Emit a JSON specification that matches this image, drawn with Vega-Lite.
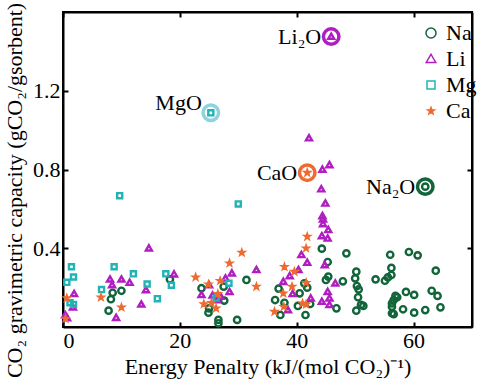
{
  "$schema": "https://vega.github.io/schema/vega-lite/v6.json",
  "width": 409,
  "height": 315,
  "autosize": {"type": "none"},
  "padding": {"left": 63, "top": 12, "right": 8, "bottom": 58},
  "background": "white",
  "config": {
    "font": "Liberation Serif",
    "view": {"stroke": "black", "strokeWidth": 2},
    "axis": {
      "grid": false,
      "domainColor": "black",
      "domainWidth": 2,
      "tickColor": "black",
      "tickWidth": 2,
      "tickSize": -5,
      "labelColor": "black",
      "labelFont": "Liberation Serif",
      "labelFontSize": 22,
      "titleFont": "Liberation Serif",
      "titleFontSize": 22,
      "titleFontWeight": "normal",
      "titleColor": "black"
    },
    "legend": {
      "labelFont": "Liberation Serif",
      "labelFontSize": 22,
      "labelColor": "black"
    }
  },
  "datasets": {
    "pts": [
      {"series": "Na", "x": 8.2, "y": 0.141}, {"series": "Na", "x": 7.8, "y": 0.083}, {"series": "Na", "x": 8.5, "y": 0.174}, {"series": "Na", "x": 10.0, "y": 0.184},
      {"series": "Na", "x": 18.3, "y": 0.242}, {"series": "Na", "x": 23.7, "y": 0.197}, {"series": "Na", "x": 25.0, "y": 0.095}, {"series": "Na", "x": 24.9, "y": 0.073},
      {"series": "Na", "x": 26.6, "y": 0.036}, {"series": "Na", "x": 26.6, "y": 0.019}, {"series": "Na", "x": 29.8, "y": 0.036}, {"series": "Na", "x": 31.4, "y": 0.239},
      {"series": "Na", "x": 27.5, "y": 0.205}, {"series": "Na", "x": 27.6, "y": 0.134},
      {"series": "Na", "x": 44.3, "y": 0.398}, {"series": "Na", "x": 48.5, "y": 0.374}, {"series": "Na", "x": 45.3, "y": 0.33}, {"series": "Na", "x": 45.4, "y": 0.256},
      {"series": "Na", "x": 45.0, "y": 0.239}, {"series": "Na", "x": 47.9, "y": 0.232}, {"series": "Na", "x": 41.3, "y": 0.222}, {"series": "Na", "x": 41.8, "y": 0.2},
      {"series": "Na", "x": 40.5, "y": 0.171}, {"series": "Na", "x": 40.2, "y": 0.107}, {"series": "Na", "x": 42.3, "y": 0.117}, {"series": "Na", "x": 41.5, "y": 0.061},
      {"series": "Na", "x": 37.2, "y": 0.061}, {"series": "Na", "x": 36.9, "y": 0.195}, {"series": "Na", "x": 36.3, "y": 0.137}, {"series": "Na", "x": 37.9, "y": 0.123},
      {"series": "Na", "x": 46.8, "y": 0.095},
      {"series": "Na", "x": 50.2, "y": 0.281}, {"series": "Na", "x": 50.0, "y": 0.247}, {"series": "Na", "x": 50.3, "y": 0.208}, {"series": "Na", "x": 50.6, "y": 0.191},
      {"series": "Na", "x": 50.5, "y": 0.151}, {"series": "Na", "x": 51.0, "y": 0.112}, {"series": "Na", "x": 51.4, "y": 0.107}, {"series": "Na", "x": 50.2, "y": 0.083},
      {"series": "Na", "x": 53.5, "y": 0.242}, {"series": "Na", "x": 55.1, "y": 0.235}, {"series": "Na", "x": 55.6, "y": 0.252}, {"series": "Na", "x": 56.2, "y": 0.264},
      {"series": "Na", "x": 56.2, "y": 0.3}, {"series": "Na", "x": 56.0, "y": 0.367}, {"series": "Na", "x": 59.2, "y": 0.381}, {"series": "Na", "x": 60.7, "y": 0.364},
      {"series": "Na", "x": 63.8, "y": 0.286}, {"series": "Na", "x": 56.9, "y": 0.158}, {"series": "Na", "x": 57.2, "y": 0.151}, {"series": "Na", "x": 56.6, "y": 0.137},
      {"series": "Na", "x": 56.3, "y": 0.12}, {"series": "Na", "x": 56.3, "y": 0.103}, {"series": "Na", "x": 56.3, "y": 0.07}, {"series": "Na", "x": 56.6, "y": 0.065},
      {"series": "Na", "x": 58.7, "y": 0.178}, {"series": "Na", "x": 60.1, "y": 0.163}, {"series": "Na", "x": 63.1, "y": 0.184}, {"series": "Na", "x": 64.1, "y": 0.158},
      {"series": "Na", "x": 64.6, "y": 0.1}, {"series": "Na", "x": 62.0, "y": 0.086}, {"series": "Na", "x": 60.1, "y": 0.073}, {"series": "Na", "x": 58.2, "y": 0.09},
      {"series": "Na", "x": 62.0, "y": 0.713},
      {"series": "Li", "x": 0.4, "y": 0.06}, {"series": "Li", "x": 0.7, "y": 0.045}, {"series": "Li", "x": 1.9, "y": 0.168}, {"series": "Li", "x": 1.7, "y": 0.1},
      {"series": "Li", "x": 8.05, "y": 0.242}, {"series": "Li", "x": 8.4, "y": 0.213}, {"series": "Li", "x": 9.1, "y": 0.047}, {"series": "Li", "x": 10.0, "y": 0.242},
      {"series": "Li", "x": 11.4, "y": 0.225}, {"series": "Li", "x": 13.4, "y": 0.115}, {"series": "Li", "x": 14.2, "y": 0.188}, {"series": "Li", "x": 14.7, "y": 0.4},
      {"series": "Li", "x": 19.0, "y": 0.268}, {"series": "Li", "x": 23.7, "y": 0.163}, {"series": "Li", "x": 25.0, "y": 0.213}, {"series": "Li", "x": 25.6, "y": 0.161},
      {"series": "Li", "x": 26.4, "y": 0.137}, {"series": "Li", "x": 27.0, "y": 0.154}, {"series": "Li", "x": 27.8, "y": 0.247}, {"series": "Li", "x": 28.5, "y": 0.178},
      {"series": "Li", "x": 28.9, "y": 0.273}, {"series": "Li", "x": 33.1, "y": 0.29},
      {"series": "Li", "x": 37.7, "y": 0.23}, {"series": "Li", "x": 38.8, "y": 0.259}, {"series": "Li", "x": 38.5, "y": 0.086}, {"series": "Li", "x": 39.3, "y": 0.168},
      {"series": "Li", "x": 40.3, "y": 0.29}, {"series": "Li", "x": 40.8, "y": 0.366}, {"series": "Li", "x": 41.8, "y": 0.327}, {"series": "Li", "x": 42.1, "y": 0.959},
      {"series": "Li", "x": 42.4, "y": 0.146}, {"series": "Li", "x": 44.4, "y": 0.8}, {"series": "Li", "x": 45.6, "y": 0.823}, {"series": "Li", "x": 44.2, "y": 0.7},
      {"series": "Li", "x": 44.9, "y": 0.628}, {"series": "Li", "x": 44.4, "y": 0.564}, {"series": "Li", "x": 44.5, "y": 0.547}, {"series": "Li", "x": 44.5, "y": 0.523},
      {"series": "Li", "x": 45.4, "y": 0.493}, {"series": "Li", "x": 44.3, "y": 0.462}, {"series": "Li", "x": 45.3, "y": 0.45}, {"series": "Li", "x": 44.8, "y": 0.315},
      {"series": "Li", "x": 46.6, "y": 0.222}, {"series": "Li", "x": 45.3, "y": 0.179}, {"series": "Li", "x": 44.3, "y": 0.129}, {"series": "Li", "x": 45.6, "y": 0.146},
      {"series": "Li", "x": 45.6, "y": 0.112},
      {"series": "Li", "x": 45.9, "y": 1.475},
      {"series": "Mg", "x": 9.7, "y": 0.667}, {"series": "Mg", "x": 30.0, "y": 0.625}, {"series": "Mg", "x": 1.45, "y": 0.306}, {"series": "Mg", "x": 1.8, "y": 0.254},
      {"series": "Mg", "x": 0.65, "y": 0.227}, {"series": "Mg", "x": 1.2, "y": 0.123}, {"series": "Mg", "x": 1.8, "y": 0.115}, {"series": "Mg", "x": 6.6, "y": 0.19},
      {"series": "Mg", "x": 8.75, "y": 0.306}, {"series": "Mg", "x": 12.05, "y": 0.27}, {"series": "Mg", "x": 14.4, "y": 0.218}, {"series": "Mg", "x": 16.15, "y": 0.144},
      {"series": "Mg", "x": 17.6, "y": 0.27}, {"series": "Mg", "x": 18.55, "y": 0.212}, {"series": "Mg", "x": 28.4, "y": 0.222}, {"series": "Mg", "x": 26.2, "y": 0.147},
      {"series": "Mg", "x": 25.3, "y": 1.088},
      {"series": "Ca", "x": 0.65, "y": 0.147}, {"series": "Ca", "x": 0.43, "y": 0.042}, {"series": "Ca", "x": 6.5, "y": 0.151}, {"series": "Ca", "x": 10.0, "y": 0.1},
      {"series": "Ca", "x": 22.7, "y": 0.253}, {"series": "Ca", "x": 24.9, "y": 0.217}, {"series": "Ca", "x": 24.1, "y": 0.117}, {"series": "Ca", "x": 25.4, "y": 0.123},
      {"series": "Ca", "x": 26.2, "y": 0.095}, {"series": "Ca", "x": 26.5, "y": 0.168}, {"series": "Ca", "x": 26.9, "y": 0.235}, {"series": "Ca", "x": 28.5, "y": 0.324},
      {"series": "Ca", "x": 30.6, "y": 0.378}, {"series": "Ca", "x": 33.1, "y": 0.205}, {"series": "Ca", "x": 37.9, "y": 0.306}, {"series": "Ca", "x": 36.2, "y": 0.078},
      {"series": "Ca", "x": 41.8, "y": 0.459}, {"series": "Ca", "x": 41.6, "y": 0.4}, {"series": "Ca", "x": 39.6, "y": 0.281}, {"series": "Ca", "x": 39.2, "y": 0.205},
      {"series": "Ca", "x": 41.6, "y": 0.225}, {"series": "Ca", "x": 37.7, "y": 0.171}, {"series": "Ca", "x": 41.0, "y": 0.12}, {"series": "Ca", "x": 41.6, "y": 0.115},
      {"series": "Ca", "x": 37.8, "y": 0.103},
      {"series": "Ca", "x": 41.8, "y": 0.784}
    ],
    "hl": [
      {"series": "Li", "label": "Li₂O", "x": 45.9, "y": 1.475},
      {"series": "Mg", "label": "MgO", "x": 25.3, "y": 1.088},
      {"series": "Ca", "label": "CaO", "x": 41.8, "y": 0.784},
      {"series": "Na", "label": "Na₂O", "x": 62.0, "y": 0.713}
    ]
  },
  "layer": [
    {
      "data": {"name": "pts"},
      "mark": {"type": "point", "opacity": 1, "size": 40, "strokeWidth": 2.4},
      "encoding": {
        "x": {"field": "x", "type": "quantitative", "scale": {"domain": [0, 70], "nice": false, "zero": false},
              "axis": {"values": [0, 20, 40, 60], "labelPadding": 8, "title": "Energy Penalty (kJ/(mol CO₂)⁻¹)", "titlePadding": 5}},
        "y": {"field": "y", "type": "quantitative", "scale": {"domain": [0, 1.6], "nice": false, "zero": false},
              "axis": {"values": [0.4, 0.8, 1.2], "format": ".1f", "labelPadding": 8, "title": "CO₂ gravimetric capacity (gCO₂/gsorbent)", "titlePadding": 6, "titleY": 178}},
        "stroke": {"field": "series", "type": "nominal", "title": null,
                   "scale": {"domain": ["Na", "Li", "Mg", "Ca"], "range": ["#12653a", "#b01ec2", "#22b3b5", "#ef6a30"]},
                   "legend": {"orient": "none", "legendX": 357, "legendY": 10, "rowPadding": 4, "labelOffset": 4}},
        "fill": {"field": "series", "type": "nominal", "title": null,
                 "scale": {"domain": ["Na", "Li", "Mg", "Ca"], "range": ["transparent", "transparent", "transparent", "#ef6a30"]}},
        "shape": {"field": "series", "type": "nominal", "title": null,
                  "scale": {"domain": ["Na", "Li", "Mg", "Ca"], "range": ["circle", "M0,-0.95L0.95,0.7L-0.95,0.7Z", "M-0.8,-0.8L0.8,-0.8L0.8,0.8L-0.8,0.8Z", "M0,-0.7L0.165,-0.227L0.666,-0.216L0.266,0.087L0.412,0.566L0,0.28L-0.412,0.566L-0.266,0.087L-0.666,-0.216L-0.165,-0.227Z"]}}
      }
    },
    {
      "data": {"name": "hl"},
      "mark": {"type": "point", "shape": "circle", "filled": false, "size": 240, "strokeWidth": 3.5, "opacity": 1},
      "encoding": {
        "x": {"field": "x", "type": "quantitative", "axis": {"orient": "top", "values": [0, 20, 40, 60], "labels": false, "title": null}},
        "y": {"field": "y", "type": "quantitative", "axis": {"orient": "right", "values": [0.4, 0.8, 1.2], "labels": false, "title": null}},
        "color": {"field": "series", "type": "nominal", "legend": null,
                  "scale": {"domain": ["Na", "Li", "Mg", "Ca"], "range": ["#12653a", "#b01ec2", "#8ed3df", "#ef6a30"]}}
      }
    },
    {
      "data": {"name": "hl"},
      "transform": [{"filter": "datum.label != 'MgO'"}],
      "mark": {"type": "text", "align": "right", "baseline": "middle", "dx": -10, "fontSize": 22, "font": "Liberation Serif", "color": "black"},
      "encoding": {
        "x": {"field": "x", "type": "quantitative", "axis": null},
        "y": {"field": "y", "type": "quantitative", "axis": null},
        "text": {"field": "label"}
      }
    },
    {
      "data": {"name": "hl"},
      "transform": [{"filter": "datum.label == 'MgO'"}],
      "mark": {"type": "text", "align": "right", "baseline": "middle", "dx": -9, "dy": -10, "fontSize": 22, "font": "Liberation Serif", "color": "black"},
      "encoding": {
        "x": {"field": "x", "type": "quantitative", "axis": null},
        "y": {"field": "y", "type": "quantitative", "axis": null},
        "text": {"field": "label"}
      }
    }
  ],
  "resolve": {"axis": {"x": "independent", "y": "independent"}}
}
